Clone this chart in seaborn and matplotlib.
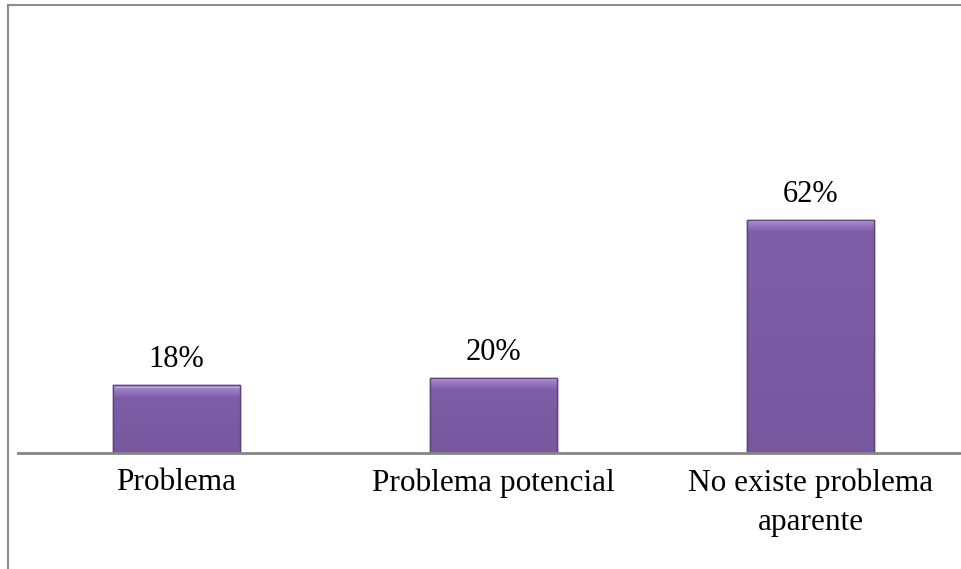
import numpy as np
import pandas as pd
import matplotlib
matplotlib.use("Agg")
import matplotlib.pyplot as plt
import seaborn as sns
from matplotlib.patches import Rectangle

categories = ["Problema", "Problema potencial", "No existe problema\naparente"]
values = [18, 20, 62]
value_labels = ["18%", "20%", "62%"]

sns.set_theme(style="white")
plt.rcParams["font.family"] = ["Liberation Serif", "DejaVu Serif"]

W, H = 961, 569
fig = plt.figure(figsize=(W / 100, H / 100), dpi=100)

# outer frame of the chart area
fig.add_artist(Rectangle((8 / W, -0.1), 1.2, (H - 5) / H + 0.1, transform=fig.transFigure,
                         fill=False, edgecolor="#8c8c8c", linewidth=1.5))

ax = fig.add_axes([18 / W, (H - 453) / H, 951 / W, (453 - 30) / H])
df = pd.DataFrame({"cat": categories, "val": values})
sns.barplot(data=df, x="cat", y="val", ax=ax, color="#7f5fa9", width=0.4,
            edgecolor="#5a4478", linewidth=1.0, saturation=1)

ymax = 423 / 3.76
ax.set_xlim(-0.5, 2.5)
ax.set_ylim(0, ymax)
px_per_unit = 423 / ymax

# bevelled shading: light rim at the top, slightly darker toward the base
base = np.array(matplotlib.colors.to_rgb("#7f5fa9"))
dark = np.array(matplotlib.colors.to_rgb("#6a4e90"))
light = np.array(matplotlib.colors.to_rgb("#c0a2e6"))
for p in list(ax.patches):
    x0, y0 = p.get_x(), p.get_y()
    w, h = p.get_width(), p.get_height()
    n = max(int(round(h * px_per_unit)), 2)
    rows = np.empty((n, 1, 3))
    for r in range(n):
        t = r / (n - 1)  # 0 bottom, 1 top
        from_top = (n - 1) - r
        c = base * (0.6 + 0.4 * t) + dark * (0.4 - 0.4 * t)
        if from_top < 3:
            c = light
        elif from_top < 12:
            k = (12 - from_top) / 9
            c = c * (1 - 0.55 * k) + light * 0.55 * k
        rows[r, 0] = c
    im = ax.imshow(rows, extent=(x0, x0 + w, y0, y0 + h), origin="lower",
                   aspect="auto", zorder=p.get_zorder() + 0.1, interpolation="bilinear")
    im.set_clip_path(p)
    ax.add_patch(Rectangle((x0, y0), w, h, fill=False, edgecolor="#5a4478",
                           linewidth=1.0, zorder=p.get_zorder() + 0.2))
ax.set_xlim(-0.5, 2.5)
ax.set_ylim(0, ymax)

for i, (v, lab) in enumerate(zip(values, value_labels)):
    ax.annotate(lab, (i, v), xytext=(0, 8), textcoords="offset points",
                ha="center", va="bottom", fontsize=22, color="black")

for s in ["top", "right", "left"]:
    ax.spines[s].set_visible(False)
ax.spines["bottom"].set_color("#868686")
ax.spines["bottom"].set_linewidth(2)
ax.set_yticks([])
ax.set_xlabel("")
ax.set_ylabel("")
ax.tick_params(axis="x", length=0, pad=11, labelsize=22.5, labelcolor="black")
for t in ax.get_xticklabels():
    t.set_linespacing(1.45)
ax.patch.set_alpha(0)

fig.savefig("out.png", dpi=100)
